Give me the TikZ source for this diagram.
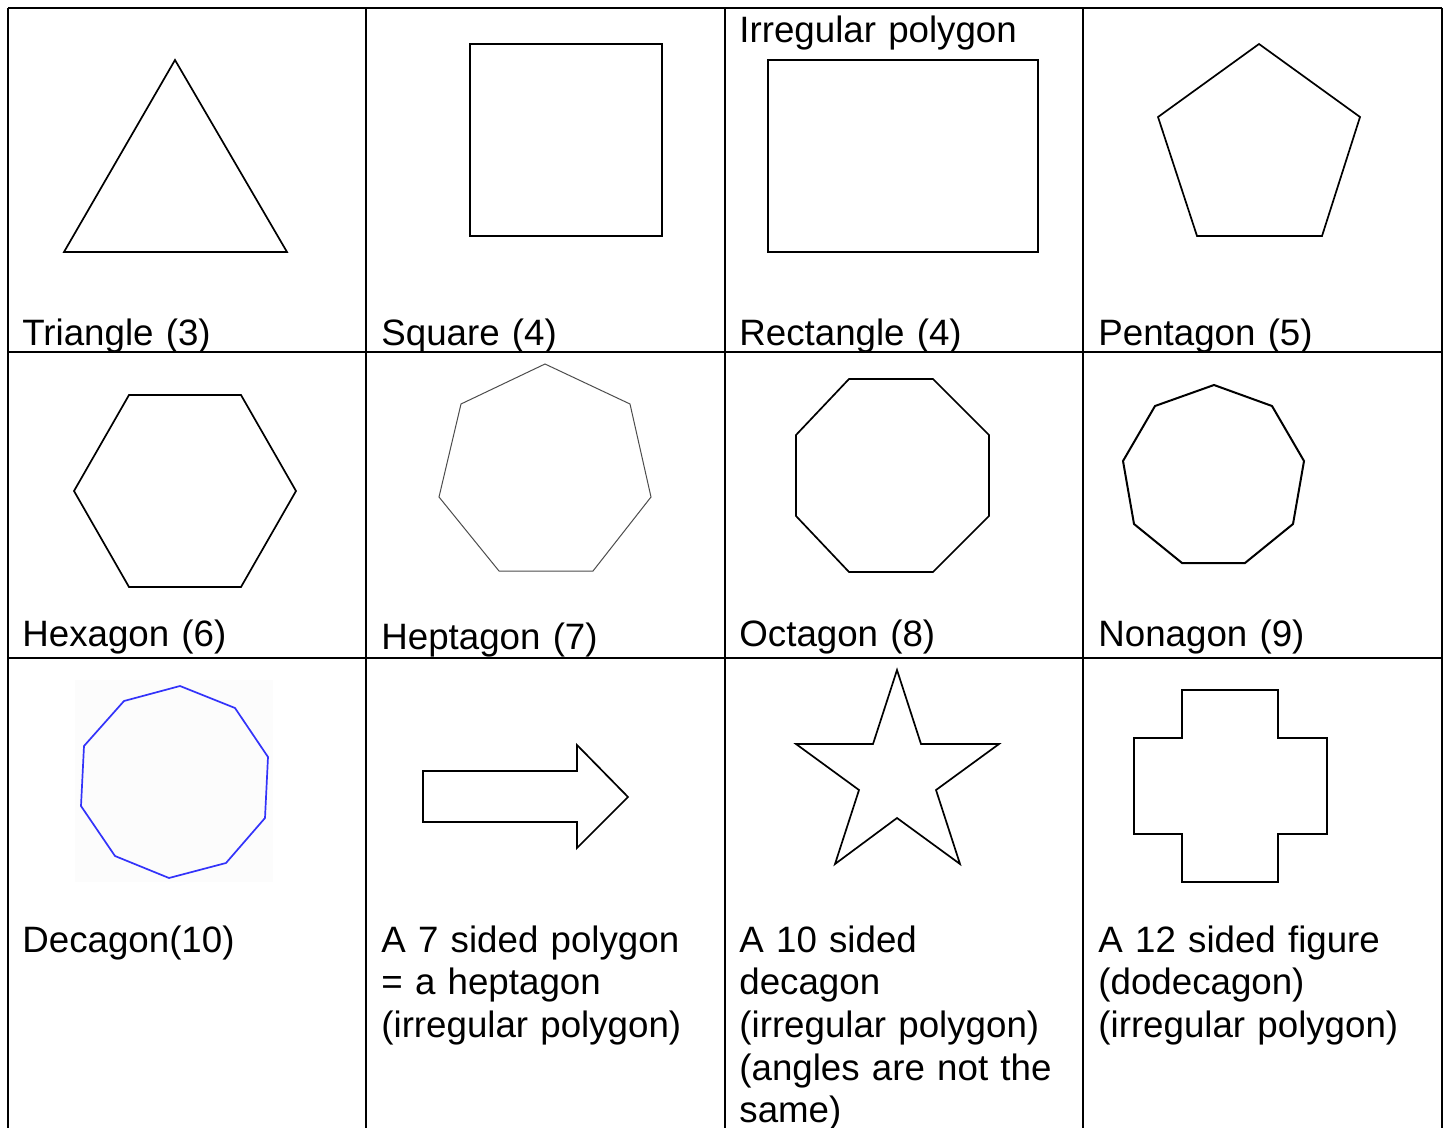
\documentclass[tikz,border=0pt]{standalone}
\usepackage{fontspec}
\setmainfont{Liberation Sans}
\definecolor{DecaBlue}{RGB}{51,51,250}

\begin{document}
\begin{tikzpicture}[
    x=0.5pt, y=-0.5pt,
    grid/.style={line width=1pt, black},
    shp/.style={line width=0.85pt, line join=miter},
    lbl/.style={anchor=base west, inner sep=0pt, align=left, text width=170pt, font=\fontsize{18.35pt}{21.35pt}\selectfont}
]
\useasboundingbox (0,0) rectangle (1449,1128);
% table grid
\foreach \x in {8,366,725,1083,1442} \draw[grid] (\x,8) -- (\x,1128);
\foreach \y in {8,352,658} \draw[grid] (8,\y) -- (1442,\y);

% row 1
\draw[shp] (175,60) -- (287,252) -- (64,252) -- cycle;
\draw[shp] (470,44) rectangle (662,236);
\draw[shp] (768,60) rectangle (1038,252);
\draw[shp] (1259,44) -- (1360,117) -- (1322,236) -- (1197,236) -- (1158,117) -- cycle;
\node[lbl] (tri) at (22,345) {Triangle (3)};
\node[lbl] (sq) at (381,345) {Square (4)};
\node[lbl] (irr) at (739,43) {Irregular polygon};
\node[lbl] (rect) at (739,345) {Rectangle (4)};
\node[lbl] (pent) at (1098,345) {Pentagon (5)};

% row 2
\draw[shp] (74,491) -- (129,395) -- (241,395) -- (296,491) -- (241,587) -- (129,587) -- cycle;
\draw[line width=0.5pt, black!70] (545,364) -- (630,404) -- (651,497) -- (593,571) -- (499,571) -- (439,497) -- (461,404) -- cycle;
\draw[shp] (796,435) -- (849,379) -- (933,379) -- (989,435) -- (989,516) -- (933,572) -- (849,572) -- (796,516) -- cycle;
\draw[shp, line width=1pt] (1214,385) -- (1272,406) -- (1304,461) -- (1293,524) -- (1245,563) -- (1182,563) -- (1134,524) -- (1123,461) -- (1155,406) -- cycle;
\node[lbl] (hex) at (22,646) {Hexagon (6)};
\node[lbl] (hept) at (381,649) {Heptagon (7)};
\node[lbl] (oct) at (739,646) {Octagon (8)};
\node[lbl] (non) at (1098,646) {Nonagon (9)};

% row 3
\fill[black!1] (75,680) rectangle (273,882);
\draw[shp, DecaBlue] (180,686) -- (235,708) -- (268,757) -- (265,818) -- (226,863) -- (169,878) -- (115,856) -- (81,806) -- (84,746) -- (124,701) -- cycle;
\draw[shp] (423,771) -- (577,771) -- (577,745) -- (628,797) -- (577,848) -- (577,822) -- (423,822) -- cycle;
\draw[shp] (897,670) -- (921,744) -- (999,744) -- (936,790) -- (960,864) -- (897,818) -- (835,864) -- (859,790) -- (796,744) -- (873,744) -- cycle;
\draw[shp] (1182,690) -- (1278,690) -- (1278,738) -- (1327,738) -- (1327,834) -- (1278,834) -- (1278,882) -- (1182,882) -- (1182,834) -- (1134,834) -- (1134,738) -- (1182,738) -- cycle;
\node[lbl] (dec) at (22,952) {Decagon(10)};
\node[lbl] (seven) at (381,952) {A 7 sided polygon\\= a heptagon\\(irregular polygon)};
\node[lbl] (ten) at (739,952) {A 10 sided\\decagon\\(irregular polygon)\\(angles are not the\\same)};
\node[lbl] (twelve) at (1098,952) {A 12 sided figure\\(dodecagon)\\(irregular polygon)};
\end{tikzpicture}
\end{document}
